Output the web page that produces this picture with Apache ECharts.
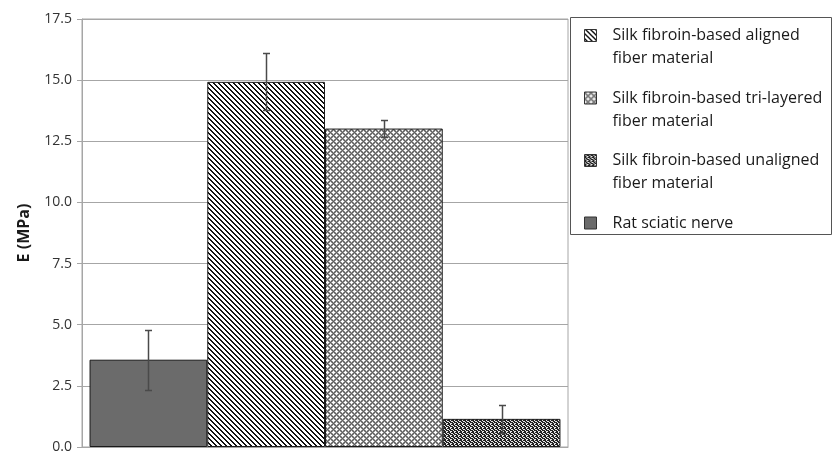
<!DOCTYPE html>
<html>
<head>
<meta charset="utf-8">
<script src="https://cdn.jsdelivr.net/npm/echarts@6/dist/echarts.min.js"></script>
<style>html,body{margin:0;padding:0;background:#fff;}#c{width:833px;height:454px;}</style>
</head>
<body>
<div id="c"></div>
<script>
// ---- data ----
const seriesNames = ['Rat sciatic nerve', 'Silk fibroin-based aligned fiber material', 'Silk fibroin-based tri-layered fiber material', 'Silk fibroin-based unaligned fiber material'];
const values = [3.57, 14.93, 13.02, 1.15];
const errors = [1.23, 1.17, 0.33, 0.57];
const legendOrder = ['Silk fibroin-based aligned fiber material', 'Silk fibroin-based tri-layered fiber material', 'Silk fibroin-based unaligned fiber material', 'Rat sciatic nerve'];
const legendLabels = ['Silk fibroin-based aligned\nfiber material', 'Silk fibroin-based tri-layered\nfiber material', 'Silk fibroin-based unaligned\nfiber material', 'Rat sciatic nerve\n '];
const yTicks = [0, 2.5, 5, 7.5, 10, 12.5, 15, 17.5];

// ---- patterns (style only) ----
function tile(size, fn) {
  const cv = document.createElement('canvas');
  cv.width = size; cv.height = size;
  const ctx = cv.getContext('2d');
  for (let y = 0; y < size; y++) for (let x = 0; x < size; x++) {
    ctx.fillStyle = fn(x, y); ctx.fillRect(x, y, 1, 1);
  }
  return { image: cv, repeat: 'repeat' };
}
const mod = (a, n) => ((a % n) + n) % n;
const patAligned = tile(5, (x, y) => (mod(x - y, 5) < 2 ? '#111' : '#fff'));
const patTri = tile(6, (x, y) => {
  const a = mod(x + y, 6), b = mod(x - y, 6);
  if (a === 0 || b === 0) return '#5e5e5e';
  if (a >= 2 && a <= 4 && b >= 2 && b <= 4) return '#fff';
  return '#9a9a9a';
});
const speck = ['XX.X', '.XX.', 'X.XX', 'XX..'];
const patUn = tile(4, (x, y) => (speck[y][x] === 'X' ? '#222' : '#e8e8e8'));
const fills = ['#6b6b6b', patAligned, patTri, patUn];

const chart = echarts.init(document.getElementById('c'), null, { renderer: 'canvas' });
const gapPct = 0.031;
const iconTwo = 'path://M0,0 M12,46 M0,5.5 L12,5.5 L12,17.5 L0,17.5 Z';

const barSeries = seriesNames.map((n, i) => ({
  name: n,
  type: 'bar',
  data: [values[i]],
  barGap: '0%',
  barCategoryGap: (gapPct * 100) + '%',
  itemStyle: { color: fills[i], borderColor: '#1a1a1a', borderWidth: 1 }
}));

const errSeries = {
  type: 'custom',
  name: 'err',
  z: 5,
  data: values.map((v, i) => [0, v, errors[i], i]),
  encode: { x: 0, y: 1 },
  renderItem: function (params, api) {
    const cat = api.value(0), v = api.value(1), e = api.value(2), i = api.value(3);
    const c = api.coord([cat, v]);
    const band = api.size([1, 0])[0];
    const bw = band * (1 - gapPct) / seriesNames.length;
    const x = Math.round(c[0] - bw * seriesNames.length / 2 + (i + 0.5) * bw) + 0.5;
    const t = Math.round(api.coord([cat, v + e])[1]) + 0.5;
    const b = Math.round(api.coord([cat, v - e])[1]) + 0.5;
    const st = { stroke: '#4a4a4a', lineWidth: 1.5 };
    return { type: 'group', children: [
      { type: 'line', shape: { x1: x, y1: t, x2: x, y2: b }, style: st },
      { type: 'line', shape: { x1: x - 3.5, y1: t, x2: x + 3.5, y2: t }, style: st },
      { type: 'line', shape: { x1: x - 3.5, y1: b, x2: x + 3.5, y2: b }, style: st }
    ] };
  }
};

chart.setOption({
  animation: false,
  grid: { left: 82, right: 265, top: 19, bottom: 4, show: true, borderColor: '#a6a6a6', borderWidth: 1 },
  xAxis: { type: 'category', data: [''], axisLine: { show: true, lineStyle: { color: '#a6a6a6' } }, axisTick: { show: false }, axisLabel: { show: false } },
  yAxis: {
    type: 'value', min: 0, max: 17.5, interval: 2.5,
    name: 'E (MPa)', nameLocation: 'middle', nameGap: 50, nameMoveOverlap: false,
    nameTextStyle: { fontFamily: 'Open Sans', fontWeight: 'bold', fontSize: 16, color: '#1a1a1a' },
    axisLine: { show: true, lineStyle: { color: '#a6a6a6' } },
    axisTick: { show: true, length: 5, lineStyle: { color: '#a6a6a6' } },
    axisLabel: { fontFamily: 'Open Sans', fontSize: 14, color: '#333', margin: 10, formatter: v => v.toFixed(1) },
    splitLine: { show: true, lineStyle: { color: '#a6a6a6', width: 1 } }
  },
  legend: {
    orient: 'vertical', left: 584, top: 23.5, padding: 0,
    itemWidth: 12, itemHeight: 46, itemGap: 15.5,
    itemStyle: { borderWidth: 1, borderColor: '#333' },
    textStyle: { fontFamily: 'Open Sans', fontSize: 16, color: '#1a1a1a', lineHeight: 23, padding: [0, 0, 0, 11] },
    data: legendOrder.map(n => ({ name: n, icon: iconTwo })),
    formatter: n => legendLabels[legendOrder.indexOf(n)],
    selectedMode: false
  },
  graphic: [{ type: 'rect', shape: { x: 570.5, y: 17.5, width: 261, height: 217 }, style: { fill: 'none', stroke: '#555', lineWidth: 1 }, z: 10 }],
  series: barSeries.concat([errSeries])
});
</script>
</body>
</html>
